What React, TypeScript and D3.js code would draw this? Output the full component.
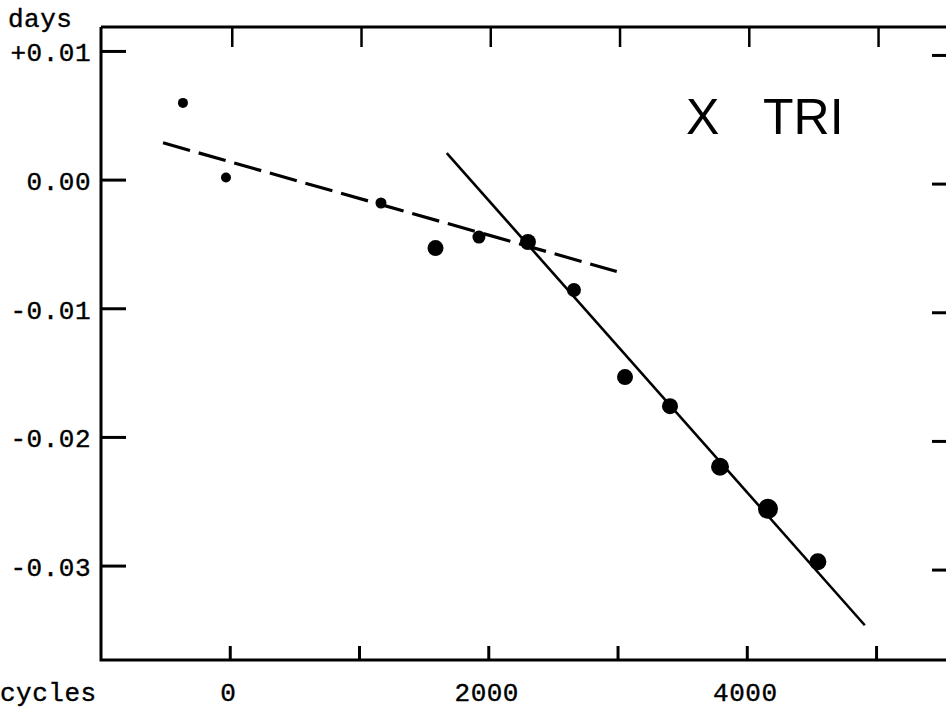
import React from "react";
import * as d3 from "d3";

const cycles = [-366, -33, 1166, 1588, 1924, 2303, 2659, 3054, 3402, 3789, 4160, 4546];
const oc = [0.006, 0.0002, -0.00178, -0.00528, -0.00443, -0.00481, -0.00854, -0.01531, -0.01757, -0.02228, -0.02555, -0.02967];
const weight = [5, 5, 5.5, 8, 6.5, 8, 7, 8, 8, 9, 10, 8.5];
const dashedFit = [
  { x: -520, y: 0.0029 },
  { x: 2990, y: -0.0071 },
];
const solidFit = [
  { x: 1675, y: 0.0021 },
  { x: 4909, y: -0.0346 },
];
const xTicks = [0, 1000, 2000, 3000, 4000, 5000];
const xTickLabels = ["0", "", "2000", "", "4000", ""];
const yTicks = [0.01, 0, -0.01, -0.02, -0.03];
const yTickLabels = ["+0.01", "0.00", "-0.01", "-0.02", "-0.03"];

const W = 946;
const H = 708;
const L = 101, R = 950, T = 27, B = 660;

export default function App() {
  const x = d3.scaleLinear().domain([-1000, 5545]).range([L, 947]);
  const y = d3.scaleLinear().domain([0.0119, -0.0373]).range([T, B]);
  const line = d3
    .line<{ x: number; y: number }>()
    .x((d) => x(d.x))
    .y((d) => y(d.y));
  const mono = "'Liberation Mono', 'DejaVu Sans Mono', monospace";
  return (
    <svg
      width={W}
      height={H}
      style={{ position: "absolute", left: 0, top: 0, background: "#fff" }}
    >
      <rect x={0} y={0} width={W} height={H} fill="#fff" />
      <path
        d={`M${L},${T}H${R}M${L},${T}V${B}H${R}`}
        stroke="#000"
        strokeWidth={3}
        fill="none"
      />
      {xTicks.map((t, i) => (
        <g key={"xt" + i}>
          <line x1={x(t)} x2={x(t)} y1={B} y2={B - 14} stroke="#000" strokeWidth={3} />
          <line x1={x(t) + 2} x2={x(t) + 2} y1={T} y2={T + 20} stroke="#000" strokeWidth={2.5} />
          {xTickLabels[i] && (
            <text
              x={x(t) - 2}
              y={701}
              textAnchor="middle"
              fontFamily={mono}
              fontSize={26}
              letterSpacing={0.5}
              stroke="#000"
              strokeWidth={0.4}
            >
              {xTickLabels[i]}
            </text>
          )}
        </g>
      ))}
      {yTicks.map((t, i) => (
        <g key={"yt" + i}>
          <line x1={L} x2={L + 25} y1={y(t)} y2={y(t)} stroke="#000" strokeWidth={3} />
          <line x1={R - 18} x2={R} y1={y(t) + 4} y2={y(t) + 4} stroke="#000" strokeWidth={3} />
          <text
            x={91}
            y={y(t) + 10}
            textAnchor="end"
            fontFamily={mono}
            fontSize={26}
            letterSpacing={0.5}
            stroke="#000"
            strokeWidth={0.4}
          >
            {yTickLabels[i]}
          </text>
        </g>
      ))}
      <text x={8} y={27} fontFamily={mono} fontSize={26} letterSpacing={0.5} stroke="#000" strokeWidth={0.4}>
        days
      </text>
      <text x={0} y={701} fontFamily={mono} fontSize={26} letterSpacing={0.5} stroke="#000" strokeWidth={0.4}>
        cycles
      </text>
      <text x={686} y={134} fontFamily="'Liberation Sans', Arial, sans-serif" fontSize={50}>
        X
      </text>
      <text x={763} y={134} fontFamily="'Liberation Sans', Arial, sans-serif" fontSize={50}>
        TRI
      </text>
      <path
        d={line(dashedFit) || ""}
        stroke="#000"
        strokeWidth={3.2}
        strokeDasharray="28 9"
        fill="none"
      />
      <path d={line(solidFit) || ""} stroke="#000" strokeWidth={2.6} fill="none" />
      {cycles.map((c, i) => (
        <circle key={"p" + i} cx={x(c)} cy={y(oc[i])} r={weight[i]} fill="#000" />
      ))}
    </svg>
  );
}
